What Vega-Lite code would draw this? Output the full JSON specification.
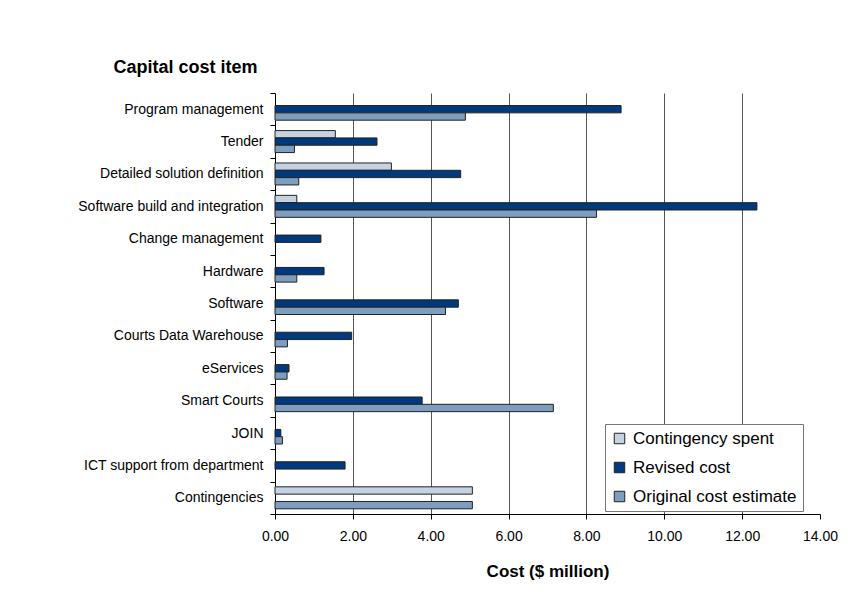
{
  "$schema": "https://vega.github.io/schema/vega-lite/v6.json",
  "width": 545,
  "height": 421,
  "autosize": {"type": "none"},
  "padding": {"left": 275, "top": 93, "right": 31, "bottom": 78},
  "background": "white",
  "config": {
    "view": {"stroke": null},
    "font": "Liberation Sans"
  },
  "data": {
    "values": [
      {"item": "Program management", "series": "Revised cost", "value": 8.89},
      {"item": "Program management", "series": "Original cost estimate", "value": 4.89},
      {"item": "Tender", "series": "Contingency spent", "value": 1.55},
      {"item": "Tender", "series": "Revised cost", "value": 2.62},
      {"item": "Tender", "series": "Original cost estimate", "value": 0.5},
      {"item": "Detailed solution definition", "series": "Contingency spent", "value": 2.99},
      {"item": "Detailed solution definition", "series": "Revised cost", "value": 4.77},
      {"item": "Detailed solution definition", "series": "Original cost estimate", "value": 0.61},
      {"item": "Software build and integration", "series": "Contingency spent", "value": 0.56},
      {"item": "Software build and integration", "series": "Revised cost", "value": 12.38},
      {"item": "Software build and integration", "series": "Original cost estimate", "value": 8.26},
      {"item": "Change management", "series": "Revised cost", "value": 1.18},
      {"item": "Hardware", "series": "Revised cost", "value": 1.26},
      {"item": "Hardware", "series": "Original cost estimate", "value": 0.56},
      {"item": "Software", "series": "Revised cost", "value": 4.71},
      {"item": "Software", "series": "Original cost estimate", "value": 4.38},
      {"item": "Courts Data Warehouse", "series": "Revised cost", "value": 1.97},
      {"item": "Courts Data Warehouse", "series": "Original cost estimate", "value": 0.32},
      {"item": "eServices", "series": "Revised cost", "value": 0.36},
      {"item": "eServices", "series": "Original cost estimate", "value": 0.31},
      {"item": "Smart Courts", "series": "Revised cost", "value": 3.78},
      {"item": "Smart Courts", "series": "Original cost estimate", "value": 7.15},
      {"item": "JOIN", "series": "Revised cost", "value": 0.15},
      {"item": "JOIN", "series": "Original cost estimate", "value": 0.19},
      {"item": "ICT support from department", "series": "Revised cost", "value": 1.8},
      {"item": "Contingencies", "series": "Contingency spent", "value": 5.07},
      {"item": "Contingencies", "series": "Original cost estimate", "value": 5.07}
    ]
  },
  "mark": {"type": "bar", "stroke": "#222222", "strokeWidth": 1},
  "encoding": {
    "y": {
      "field": "item",
      "type": "nominal",
      "sort": ["Program management", "Tender", "Detailed solution definition", "Software build and integration", "Change management", "Hardware", "Software", "Courts Data Warehouse", "eServices", "Smart Courts", "JOIN", "ICT support from department", "Contingencies"],
      "scale": {"paddingInner": 0, "paddingOuter": 0},
      "axis": {
        "title": "Capital cost item",
        "titleAngle": 0,
        "titleAlign": "left",
        "titleBaseline": "alphabetic",
        "titleX": -162,
        "titleY": -21,
        "titleFontSize": 18,
        "titleFontWeight": "bold",
        "titleColor": "#000000",
        "labelFontSize": 14,
        "labelColor": "#000000",
        "labelPadding": 7,
        "labelLimit": 300,
        "tickSize": 5,
        "tickBand": "extent",
        "tickColor": "#000000",
        "domainColor": "#000000",
        "grid": false
      }
    },
    "yOffset": {
      "field": "series",
      "type": "nominal",
      "scale": {"domain": ["Contingency spent", "Revised cost", "Original cost estimate"], "paddingInner": 0, "paddingOuter": 0.71}
    },
    "x": {
      "field": "value",
      "type": "quantitative",
      "scale": {"domain": [0, 14], "nice": false},
      "axis": {
        "title": "Cost ($ million)",
        "values": [0, 2, 4, 6, 8, 10, 12, 14],
        "format": ".2f",
        "labelFlush": false,
        "titleFontSize": 17,
        "titleFontWeight": "bold",
        "titleColor": "#000000",
        "titlePadding": 20,
        "labelFontSize": 14,
        "labelColor": "#000000",
        "labelPadding": 10,
        "tickSize": 5,
        "tickColor": "#000000",
        "domainColor": "#000000",
        "grid": true,
        "gridColor": "#555555",
        "gridOpacity": {"condition": {"test": "datum.value >= 14 || datum.value <= 0", "value": 0}, "value": 1}
      }
    },
    "color": {
      "field": "series",
      "type": "nominal",
      "scale": {"domain": ["Contingency spent", "Revised cost", "Original cost estimate"], "range": ["#C4D2E2", "#003A7E", "#7E9EC0"]},
      "legend": {
        "title": null,
        "orient": "none",
        "legendX": 330,
        "legendY": 331,
        "direction": "vertical",
        "symbolType": "square",
        "symbolSize": 110,
        "symbolStrokeColor": "#222222",
        "symbolStrokeWidth": 1,
        "labelFontSize": 17,
        "labelColor": "#000000",
        "labelLimit": 300,
        "labelOffset": 5,
        "rowPadding": 11,
        "padding": 6,
        "strokeColor": "#777777",
        "fillColor": "#FFFFFF"
      }
    }
  }
}
